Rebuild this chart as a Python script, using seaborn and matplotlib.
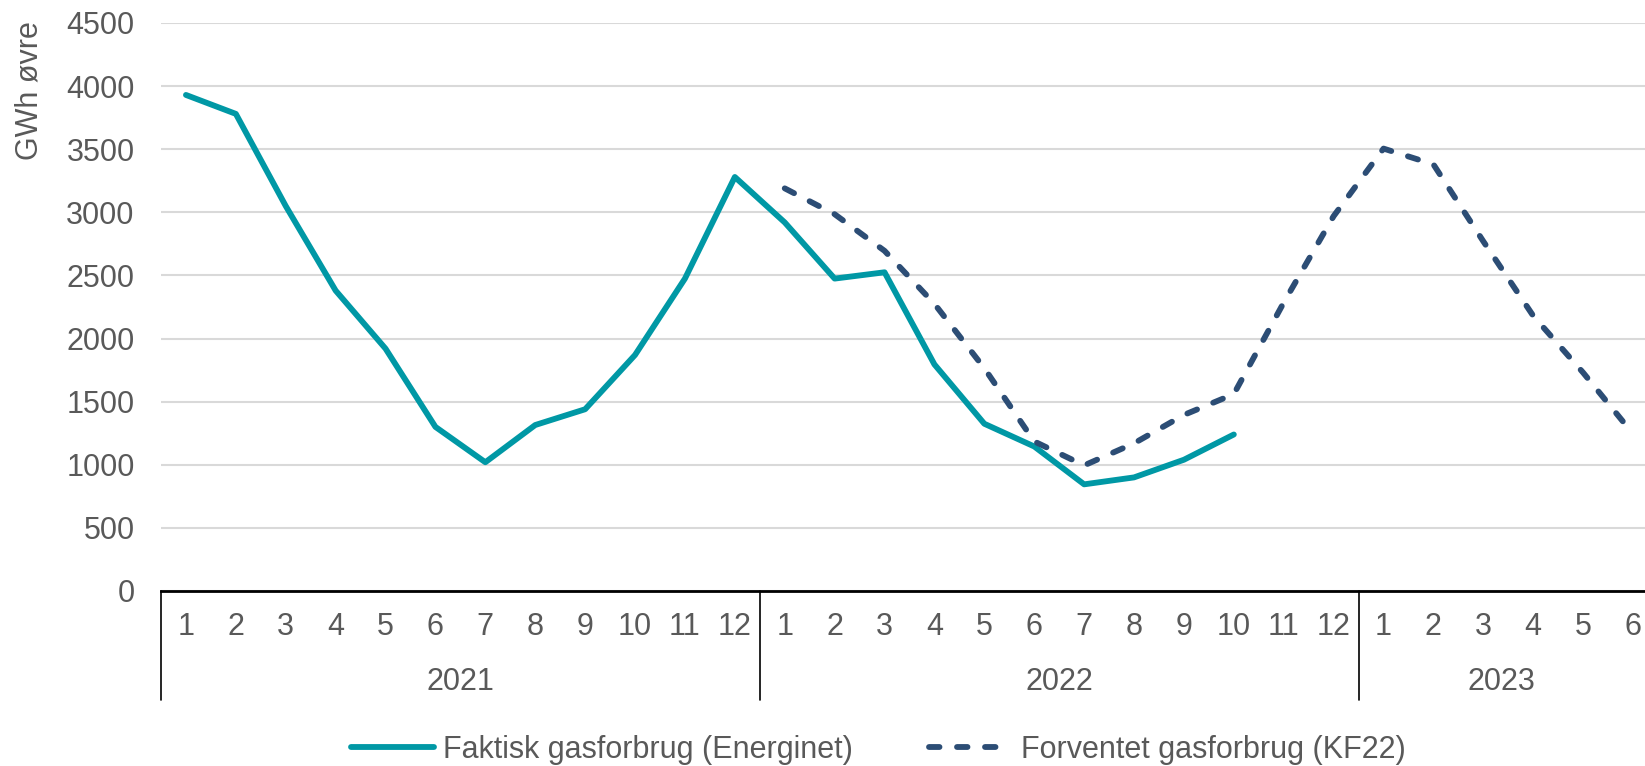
import numpy as np
import pandas as pd
import matplotlib
matplotlib.use("Agg")
import matplotlib.pyplot as plt
import matplotlib.transforms as mtransforms
import seaborn as sns

# data
years = ["2021", "2022", "2023"]
months_per_year = [12, 12, 6]
faktisk = [3930, 3780, 3050, 2380, 1920, 1300, 1020, 1315, 1440, 1870, 2475, 3280,
           2920, 2475, 2525, 1795, 1325, 1145, 845, 900, 1040, 1240]
forventet = [3190, 2985, 2695, 2275, 1765, 1185, 995, 1170, 1395, 1560, 2285, 2970,
             3505, 3380, 2770, 2180, 1730, 1245]
forventet_start = 12  # first month of 2022
series_names = ["Faktisk gasforbrug (Energinet)", "Forventet gasforbrug (KF22)"]

month_labels = []
for n in months_per_year:
    month_labels += [str(m) for m in range(1, n + 1)]

df = pd.concat([
    pd.DataFrame({"idx": np.arange(len(faktisk)), "val": faktisk, "serie": series_names[0]}),
    pd.DataFrame({"idx": np.arange(len(forventet)) + forventet_start, "val": forventet,
                  "serie": series_names[1]}),
])

sns.set_style("white")
plt.rcParams["font.family"] = ["Liberation Sans", "DejaVu Sans"]
grey = "#595959"
teal = "#0098A5"
navy = "#2C4D75"
fs = 22

fig = plt.figure(figsize=(16.45, 7.66), dpi=100)
ax = fig.add_axes([161 / 1645, 1 - 591 / 766, 1 - 161 / 1645, (591 - 23) / 766])

sns.lineplot(data=df, x="idx", y="val", hue="serie", style="serie",
             palette={series_names[0]: teal, series_names[1]: navy},
             dashes={series_names[0]: "", series_names[1]: (1.8, 3.0)},
             linewidth=4.2, legend=False, ax=ax)
for ln in ax.lines:
    ln.set_dash_capstyle("round")
    ln.set_solid_capstyle("round")
    ln.set_solid_joinstyle("round")
    ln.set_dash_joinstyle("round")

xmax = 29.24
ax.set_ylim(0, 4500)
ax.set_yticks(range(0, 4501, 500))
ax.set_xlim(-0.5, xmax)
ax.set_xticks(range(len(month_labels)))
ax.set_xticklabels(month_labels)
ax.tick_params(axis="both", length=0, labelsize=fs, colors=grey)
ax.tick_params(axis="x", pad=15)
ax.tick_params(axis="y", pad=19)
ax.grid(axis="y", color="#D9D9D9", linewidth=1.5)
ax.set_axisbelow(True)
for s in ["top", "right", "left"]:
    ax.spines[s].set_visible(False)
ax.spines["bottom"].set_color("black")
ax.spines["bottom"].set_linewidth(2)
ax.set_xlabel("")
ax.set_ylabel("")

# year labels and separators under the axis
trans = mtransforms.blended_transform_factory(ax.transData, ax.transAxes)
start = 0
sep_bottom = -(700 - 591) / 568
for yr, n in zip(years, months_per_year):
    left = start - 0.5
    right = min(start + n - 0.5, xmax)
    ax.plot([left, left], [0, sep_bottom], color="black", lw=1.2,
            transform=trans, clip_on=False)
    ax.text((left + right) / 2, -(682 - 591) / 568, yr, transform=trans, ha="center",
            va="center", fontsize=fs, color=grey)
    start += n

fig.text(30 / 1645, 1 - 91 / 766, "GWh øvre", rotation=90, ha="center", va="center",
         fontsize=fs, color=grey)

fig.legend(ax.lines[:2], series_names, loc="center", bbox_to_anchor=(0.534, 0.021),
           ncol=2, frameon=False, fontsize=fs, labelcolor=grey, handlelength=2.7,
           columnspacing=2.5, handletextpad=0.3)

fig.savefig("out.png", dpi=100)
